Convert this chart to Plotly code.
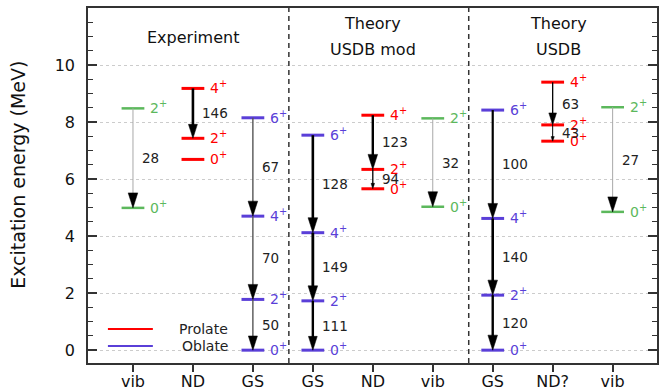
import plotly.graph_objects as go

# ---------------- data ----------------
columns = ["vib", "ND", "GS", "GS", "ND", "vib", "GS", "ND?", "vib"]
col_kind = ["vib", "ND", "GS", "GS", "ND", "vib", "GS", "ND", "vib"]

level_spins = [
    ["2", "0"],
    ["4", "2", "0"],
    ["6", "4", "2", "0"],
    ["6", "4", "2", "0"],
    ["4", "2", "0"],
    ["2", "0"],
    ["6", "4", "2", "0"],
    ["4", "2", "0"],
    ["2", "0"],
]
level_energies = [
    [8.48, 4.99],
    [9.18, 7.43, 6.69],
    [8.15, 4.70, 1.78, 0.0],
    [7.54, 4.12, 1.73, 0.0],
    [8.24, 6.34, 5.66],
    [8.13, 5.03],
    [8.42, 4.62, 1.93, 0.0],
    [9.40, 7.90, 7.33],
    [8.52, 4.85],
]

# transitions: column, index of upper level (lower = upper + 1), B(E2)
trans_col = [0, 1, 2, 2, 2, 3, 3, 3, 4, 4, 5, 6, 6, 6, 7, 7, 8]
trans_upper = [0, 0, 0, 1, 2, 0, 1, 2, 0, 1, 0, 0, 1, 2, 0, 1, 0]
trans_be2 = [28, 146, 67, 70, 50, 128, 149, 111, 123, 94, 32, 100, 140, 120, 63, 43, 27]

section_titles = ["Experiment", "Theory", "USDB mod", "Theory", "USDB"]
yticks = [0, 2, 4, 6, 8, 10]

# ---------------- styles ----------------
W, H = 670, 390
ML, MR, MT, MB = 88, 13, 8, 27
XR = [-0.75, 8.74]
YR = [-0.45, 12.0]
PX_X = (W - ML - MR) / (XR[1] - XR[0])
PX_Y = (H - MT - MB) / (YR[1] - YR[0])
FONT = "DejaVu Sans"
kind_color = {"vib": "#5cb85c", "ND": "#ff0000", "GS": "#5a3fd8"}
kind_width = {"vib": 2.5, "ND": 3, "GS": 3}
HALF = 0.19
arrow_color = ["#a8a8a8", "#000", "#555", "#555", "#555", "#000", "#000", "#000",
               "#000", "#000", "#a8a8a8", "#000", "#000", "#000", "#000", "#000", "#a8a8a8"]
arrow_width = [1, 2.6, 1.4, 1.4, 1.4, 2.6, 2.8, 2.4, 2.4, 1.3, 1, 2.2, 2.6, 2.4, 1.3, 1, 1]

fig = go.Figure()
ann = []

# level lines
for kind in ["vib", "ND", "GS"]:
    xs, ys = [], []
    for c, k in enumerate(col_kind):
        if k != kind:
            continue
        for e in level_energies[c]:
            xs += [c - HALF, c + HALF, None]
            ys += [e, e, None]
    fig.add_trace(go.Scatter(x=xs, y=ys, mode="lines", showlegend=False, hoverinfo="skip",
                             line=dict(color=kind_color[kind], width=kind_width[kind])))

# level labels
for c, k in enumerate(col_kind):
    for s, e in zip(level_spins[c], level_energies[c]):
        ann.append(dict(x=c + HALF, y=e, xref="x", yref="y", text=f"{s}<sup>+</sup>",
                        showarrow=False, xanchor="left", yanchor="middle", xshift=4, yshift=1,
                        font=dict(family=FONT, size=14, color=kind_color[k])))

# transitions
for i, (c, u, v) in enumerate(zip(trans_col, trans_upper, trans_be2)):
    eu = level_energies[c][u]
    el = level_energies[c][u + 1]
    lpx = (eu - el) * PX_Y
    hl_px = min(15.0, 0.28 * lpx)
    hw_px = max(1.6, 0.32 * hl_px)
    hl = hl_px / PX_Y
    hw = hw_px / PX_X
    fig.add_trace(go.Scatter(x=[c, c], y=[eu, el + hl * 0.5], mode="lines", showlegend=False,
                             hoverinfo="skip",
                             line=dict(color=arrow_color[i], width=arrow_width[i])))
    fig.add_trace(go.Scatter(x=[c - hw, c + hw, c, c - hw], y=[el + hl, el + hl, el, el + hl],
                             mode="lines", fill="toself", fillcolor="#000", showlegend=False,
                             hoverinfo="skip", line=dict(color="#000", width=0.5)))
    ann.append(dict(x=c, y=(eu + el) / 2, xref="x", yref="y", text=str(v), showarrow=False,
                    xanchor="left", yanchor="middle", xshift=7,
                    font=dict(family=FONT, size=13.5, color="#222")))

# section titles
title_pos = [(1.0, 10.95), (4.0, 11.47), (4.0, 10.53), (7.1, 11.47), (7.1, 10.53)]
for t, (x, y) in zip(section_titles, title_pos):
    ann.append(dict(x=x, y=y, xref="x", yref="y", text=t, showarrow=False,
                    font=dict(family=FONT, size=16, color="#111")))

# y-axis title
ann.append(dict(x=0, y=0.53, xref="paper", yref="y domain", xanchor="center", yanchor="middle",
                xshift=-70, text="Excitation energy (MeV)", textangle=-90, showarrow=False,
                font=dict(family=FONT, size=19, color="#111")))

shapes = []
for xd in [2.6, 5.6]:
    shapes.append(dict(type="line", xref="x", yref="y domain", x0=xd, x1=xd, y0=0, y1=1,
                       line=dict(color="#333", width=1.5, dash="5px,4px")))

# legend (manual)
leg = [("Prolate", kind_color["ND"], 0.096), ("Oblate", kind_color["GS"], 0.048)]
for name, col, yf in leg:
    shapes.append(dict(type="line", xref="x domain", yref="y domain", x0=0.035, x1=0.114,
                       y0=yf, y1=yf, line=dict(color=col, width=2)))
    ann.append(dict(x=0.249, y=yf, xref="x domain", yref="y domain", text=name, showarrow=False,
                    xanchor="right", yanchor="middle",
                    font=dict(family=FONT, size=14, color="#222")))

fig.update_layout(
    width=W, height=H, margin=dict(l=ML, r=MR, t=MT, b=MB, autoexpand=False),
    paper_bgcolor="white", plot_bgcolor="white",
    font=dict(family=FONT, size=16, color="#111"),
    annotations=ann, shapes=shapes, showlegend=False,
    xaxis=dict(range=XR, tickvals=list(range(len(columns))), ticktext=columns,
               ticks="outside", ticklen=7, tickcolor="#333", tickwidth=1.5, automargin=False,
               showline=True, linecolor="#333", linewidth=1.5, mirror=True,
               ticklabelstandoff=-4,
               showgrid=False, zeroline=False, tickfont=dict(size=16)),
    yaxis=dict(range=YR, tickvals=yticks, ticks="inside", ticklen=9, tickcolor="#333",
               tickwidth=1.5, showline=True, linecolor="#333", linewidth=1.5, mirror="ticks",
               showgrid=True, gridcolor="#cccccc", griddash="dot", gridwidth=1, automargin=False,
               zeroline=False, tickfont=dict(size=16), ticklabelstandoff=8,
               minor=dict(dtick=0.5, tick0=0, ticks="inside", ticklen=5, tickcolor="#333",
                          tickwidth=1.2, showgrid=False)),
)

fig.write_html("out.html")
